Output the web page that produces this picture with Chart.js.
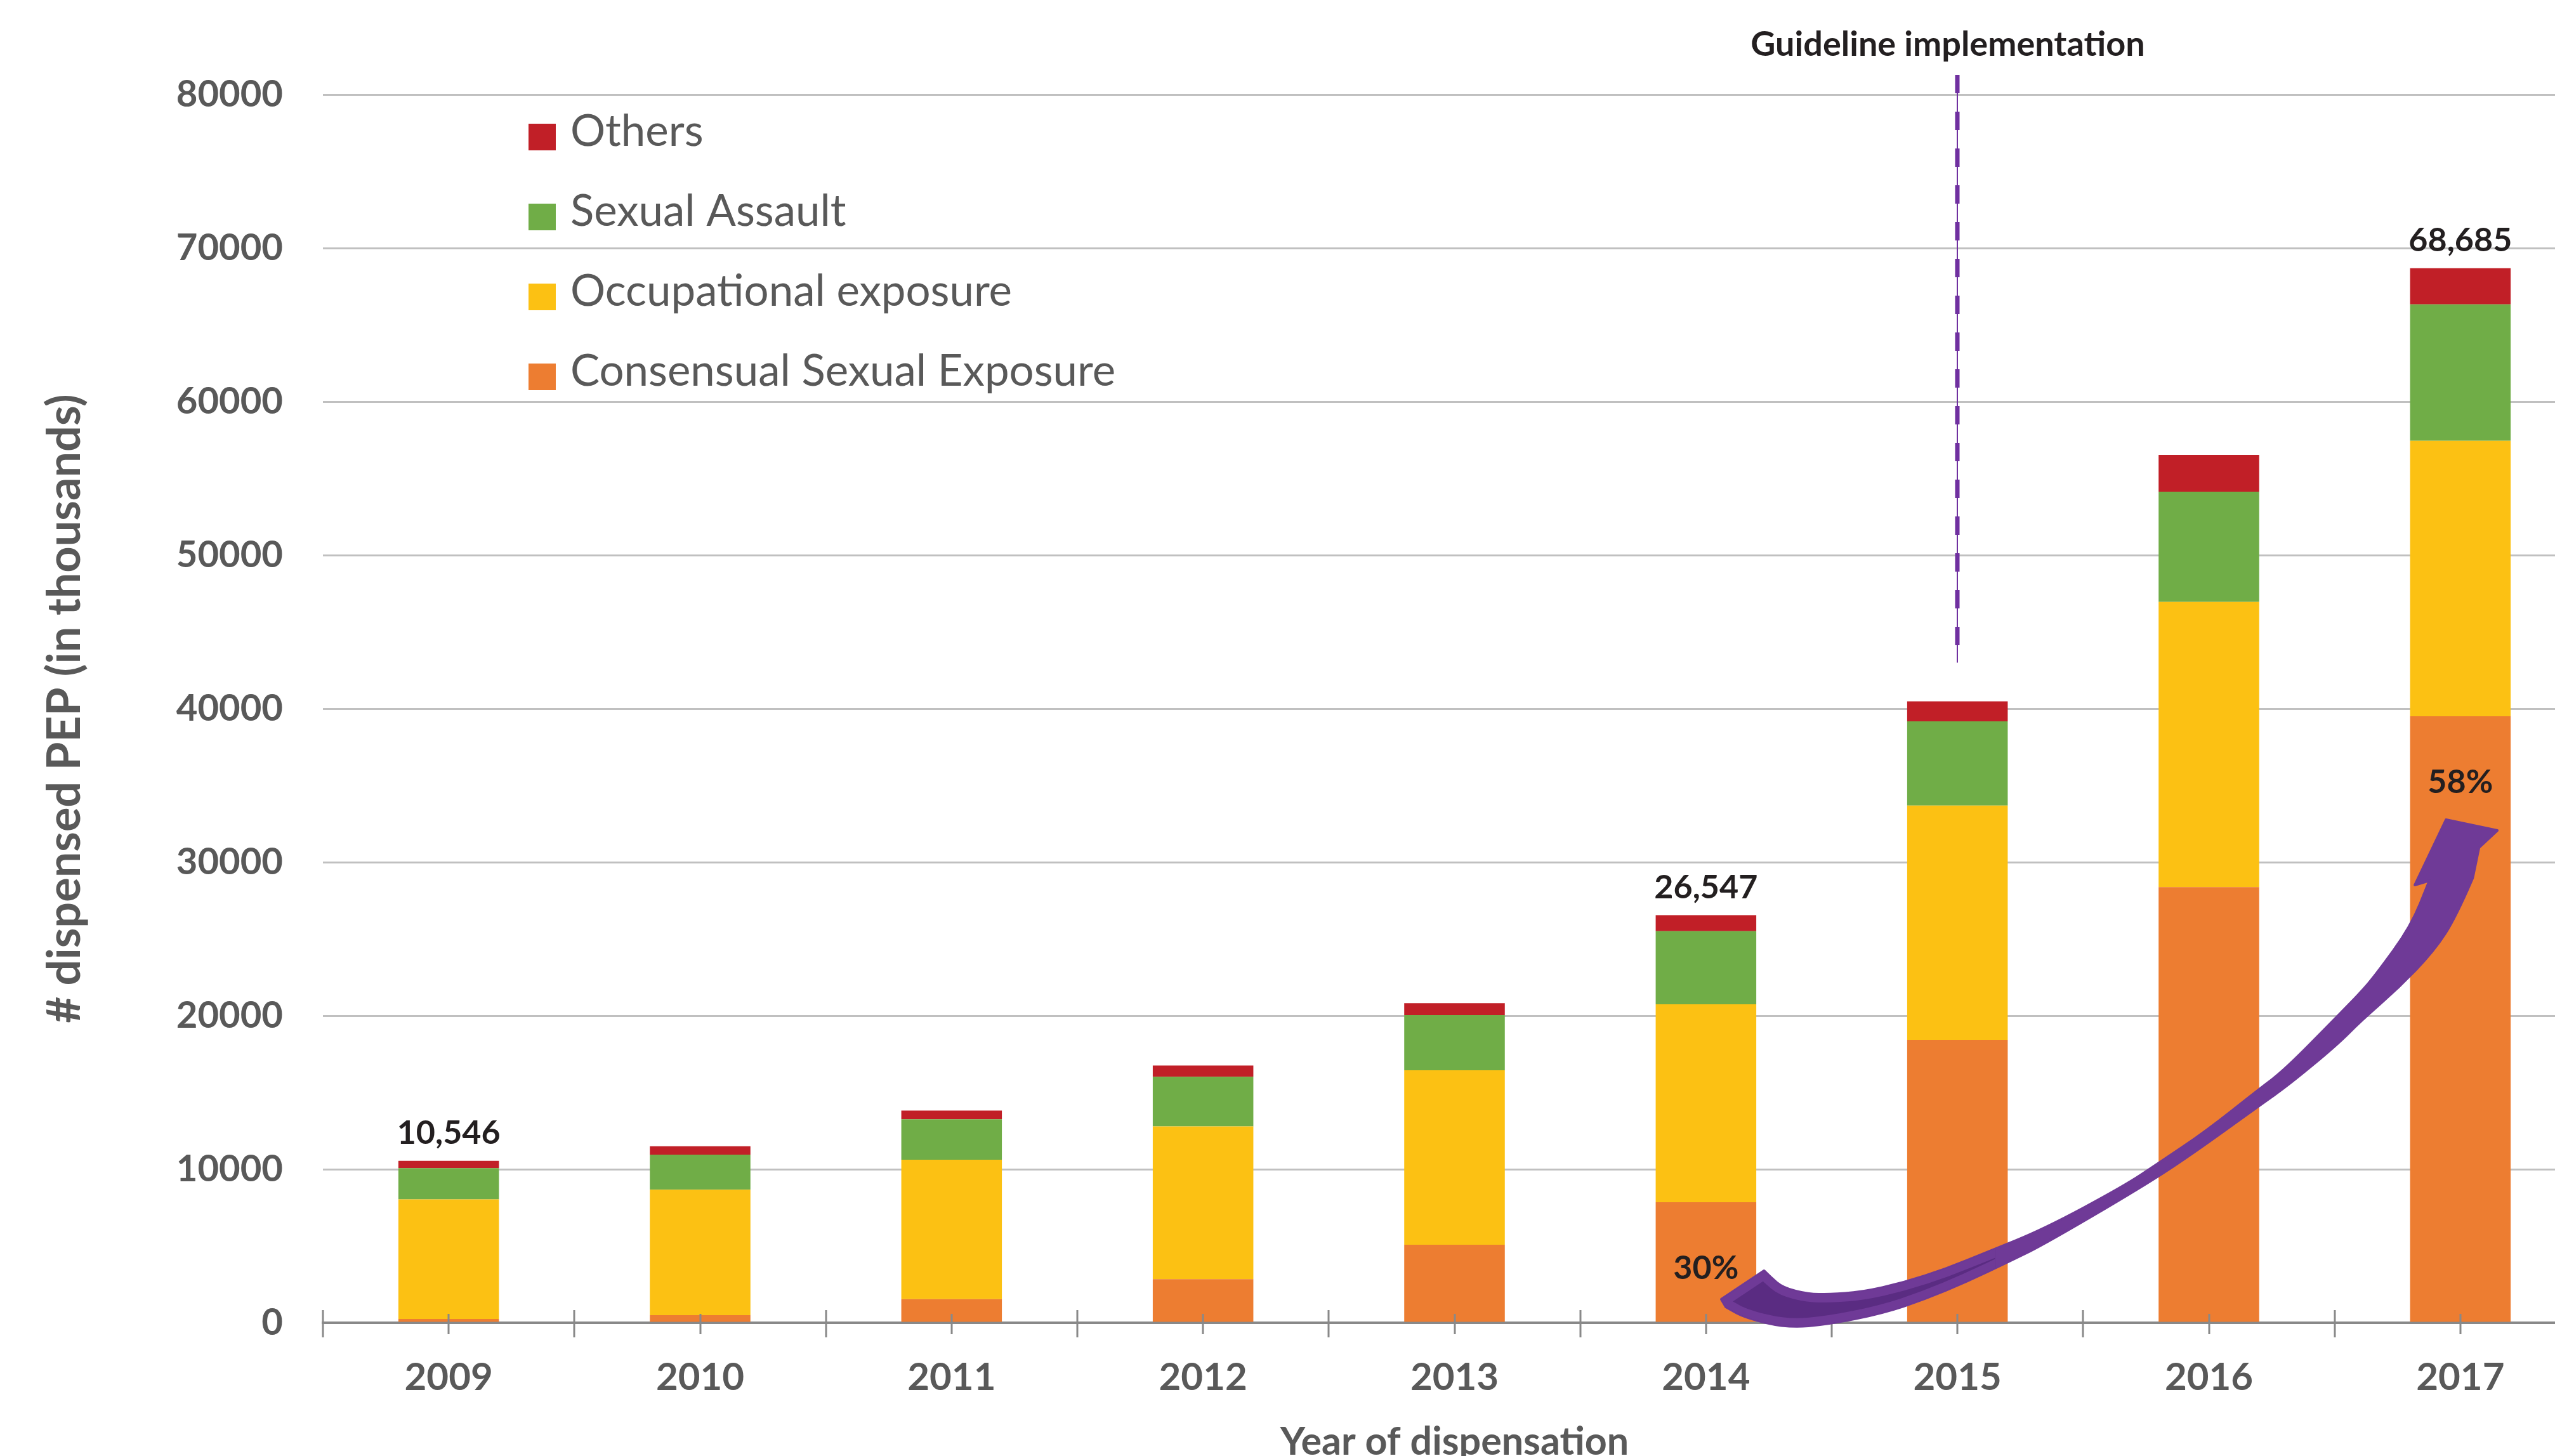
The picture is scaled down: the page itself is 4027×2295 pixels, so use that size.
<!DOCTYPE html>
<html>
<head>
<meta charset="utf-8">
<title>Dispensed PEP by year</title>
<script src="https://cdn.jsdelivr.net/npm/chart.js@4.4.1/dist/chart.umd.min.js"></script>
<style>
  html, body { margin: 0; padding: 0; background: #fff; overflow: hidden; }
  #wrap { width: 4076px; height: 2310px; }
</style>
</head>
<body>
<div id="wrap"><canvas id="pepChart" width="4076" height="2310"></canvas></div>
<script>
// ---- data ----
const years = ['2009', '2010', '2011', '2012', '2013', '2014', '2015', '2016', '2017'];
const consensual    = [244, 496, 1541, 2843, 5083, 7850, 18430, 28376, 39500];
const occupational  = [7796, 8169, 9075, 9950, 11359, 12894, 15257, 18579, 17950];
const sexualAssault = [2030, 2285, 2640, 3228, 3603, 4764, 5487, 7177, 8885];
const others        = [476, 546, 566, 735, 773, 1039, 1297, 2401, 2350];
const yTicks = [0, 10000, 20000, 30000, 40000, 50000, 60000, 70000, 80000];

const totalLabelYears = ['2009', '2014', '2017'];
const shareLabelYears = ['2014', '2017'];
const guidelineYear = '2015';

const totals = years.map((_, i) => consensual[i] + occupational[i] + sexualAssault[i] + others[i]);

// ---- colours ----
const COLORS = {
  consensual: '#ed7d31',
  occupational: '#fcc113',
  assault: '#70ad47',
  others: '#c11f27',
  text: '#595959',
  dark: '#231f20',
  grid: '#c0c0c0',
  axis: '#898989',
  purple: '#7030a0',
  arrow: '#6f3a97',
  arrowFill: '#5a2c82'
};

Chart.defaults.font.family = 'Lato, "Open Sans", sans-serif';
Chart.defaults.color = COLORS.text;

// swoosh arrow outline, in [category index, value] pairs
const arrowStart = [5.061, 1529];
const arrowUpper = [[5.231, 3388], [5.256, 2975], [5.306, 2273], [5.407, 1859], [5.490, 1859], [5.617, 1983],
  [5.786, 2603], [5.955, 3512], [6.121, 4628], [6.341, 6074], [6.661, 8884], [6.802, 10413], [6.989, 12479],
  [7.199, 15206], [7.300, 16446], [7.509, 19917], [7.602, 21487], [7.663, 22644], [7.804, 25826], [7.877, 28801]];
const arrowHead = [[7.819, 28512], [7.943, 32768], [8.147, 32066], [8.074, 30950]];
const arrowLower = [[8.049, 28967], [7.983, 26446], [7.895, 24215], [7.754, 21818], [7.602, 19628],
  [7.509, 18099], [7.317, 15496], [7.199, 14132], [6.929, 10950], [6.737, 8884], [6.341, 5083], [6.207, 4008],
  [6.038, 2686], [5.869, 1529], [5.702, 620], [5.490, -83], [5.324, -331], [5.155, 331], [5.079, 1033]];

function smoothThrough(ctx, pts) {
  ctx.lineTo(pts[0][0], pts[0][1]);
  for (let k = 1; k < pts.length - 1; k++) {
    const [ax, ay] = pts[k];
    const [bx, by] = pts[k + 1];
    ctx.quadraticCurveTo(ax, ay, (ax + bx) / 2, (ay + by) / 2);
  }
  const last = pts[pts.length - 1];
  ctx.lineTo(last[0], last[1]);
}

const annotations = {
  id: 'annotations',
  afterDraw(chart) {
    const { ctx, chartArea, scales: { x, y } } = chart;
    const toPx = p => [x.getPixelForValue(p[0]), y.getPixelForValue(p[1])];
    const line = (x1, y1, x2, y2) => { ctx.beginPath(); ctx.moveTo(x1, y1); ctx.lineTo(x2, y2); ctx.stroke(); };
    ctx.save();

    // tick marks on the category axis
    const step = x.getPixelForValue(1) - x.getPixelForValue(0);
    ctx.strokeStyle = COLORS.axis;
    ctx.lineWidth = 3;
    for (let i = 0; i <= years.length; i++) {
      const px = Math.round(x.getPixelForValue(i) - step / 2);
      line(px, chartArea.bottom - 20, px, chartArea.bottom + 23);
    }
    for (let i = 0; i < years.length; i++) {
      const px = Math.round(x.getPixelForValue(i));
      line(px, chartArea.bottom - 14, px, chartArea.bottom + 18);
    }

    // legend, top item = top of stack
    ctx.textAlign = 'left';
    ctx.textBaseline = 'alphabetic';
    ctx.font = '69px Lato';
    [...chart.data.datasets].reverse().forEach((ds, k) => {
      const cy = chartArea.top + 67 + k * 126;
      ctx.fillStyle = ds.backgroundColor;
      ctx.fillRect(chartArea.left + 324, cy - 21, 43, 42);
      ctx.fillStyle = COLORS.text;
      ctx.fillText(ds.label, chartArea.left + 390, cy + 14);
    });

    // guideline marker
    const gx = Math.round(x.getPixelForValue(years.indexOf(guidelineYear)));
    const gTop = chartArea.top - 31;
    const gBottom = y.getPixelForValue(43000);
    ctx.strokeStyle = COLORS.purple;
    ctx.lineWidth = 2;
    line(gx, gTop, gx, gBottom);
    ctx.lineWidth = 7;
    ctx.setLineDash([29, 29]);
    line(gx, gTop, gx, gBottom);
    ctx.setLineDash([]);
    ctx.fillStyle = COLORS.dark;
    ctx.font = 'bold 54px Lato';
    ctx.textAlign = 'center';
    ctx.fillText('Guideline implementation', gx - 15, chartArea.top - 61);

    // totals above selected bars
    ctx.font = 'bold 52px Lato';
    totalLabelYears.forEach(yr => {
      const i = years.indexOf(yr);
      ctx.fillText(totals[i].toLocaleString('en-US'), x.getPixelForValue(i), y.getPixelForValue(totals[i]) - 27);
    });

    // arrow from the 2014 share to the 2017 share
    const arrowPath = () => {
      ctx.beginPath();
      const s = toPx(arrowStart);
      ctx.moveTo(s[0], s[1]);
      smoothThrough(ctx, arrowUpper.map(toPx));
      arrowHead.map(toPx).forEach(p => ctx.lineTo(p[0], p[1]));
      smoothThrough(ctx, arrowLower.map(toPx));
      ctx.closePath();
    };
    ctx.lineJoin = 'round';
    arrowPath();
    ctx.fillStyle = COLORS.arrow;
    ctx.fill();
    ctx.strokeStyle = COLORS.arrow;
    ctx.lineWidth = 4;
    ctx.stroke();
    // darker body inside the tail, with a light rim
    ctx.save();
    arrowPath();
    ctx.clip();
    ctx.beginPath();
    ctx.rect(0, 0, x.getPixelForValue(6.15), chart.height);
    ctx.clip();
    arrowPath();
    ctx.fillStyle = COLORS.arrowFill;
    ctx.fill();
    ctx.lineWidth = 26;
    ctx.stroke();
    ctx.restore();

    // share of consensual exposure
    ctx.fillStyle = COLORS.dark;
    ctx.font = 'bold 52px Lato';
    ctx.textAlign = 'center';
    shareLabelYears.forEach(yr => {
      const i = years.indexOf(yr);
      const pct = Math.round(consensual[i] / totals[i] * 100) + '%';
      ctx.fillText(pct, x.getPixelForValue(i), y.getPixelForValue(consensual[i]) + 121);
    });

    ctx.restore();
  }
};

const barOpts = { barPercentage: 0.4, categoryPercentage: 1.0, borderWidth: 0, stack: 'pep' };

new Chart(document.getElementById('pepChart'), {
  type: 'bar',
  data: {
    labels: years,
    datasets: [
      { label: 'Consensual Sexual Exposure', data: consensual, backgroundColor: COLORS.consensual, ...barOpts },
      { label: 'Occupational exposure', data: occupational, backgroundColor: COLORS.occupational, ...barOpts },
      { label: 'Sexual Assault', data: sexualAssault, backgroundColor: COLORS.assault, ...barOpts },
      { label: 'Others', data: others, backgroundColor: COLORS.others, ...barOpts }
    ]
  },
  options: {
    responsive: false,
    animation: false,
    layout: { padding: { top: 149, left: 0, right: 0, bottom: 0 } },
    plugins: {
      legend: { display: false },
      tooltip: { enabled: false }
    },
    scales: {
      x: {
        stacked: true,
        z: 1,
        grid: { display: false, drawTicks: false },
        border: { display: true, color: COLORS.axis, width: 4 },
        ticks: { font: { size: 60, weight: 'bold' }, color: COLORS.text, padding: 51 },
        title: {
          display: true,
          text: 'Year of dispensation',
          font: { size: 61, weight: 'bold' },
          color: COLORS.text,
          padding: { top: 0, bottom: 0 }
        },
        afterFit: scale => { scale.height = 225; }
      },
      y: {
        stacked: true,
        min: 0,
        max: 80000,
        afterBuildTicks: scale => { scale.ticks = yTicks.map(v => ({ value: v })); },
        grid: { color: COLORS.grid, lineWidth: 3, drawTicks: false },
        border: { display: false },
        ticks: {
          font: { size: 58, weight: 'bold' },
          color: COLORS.text,
          padding: 63,
          callback: v => String(v)
        },
        title: {
          display: true,
          text: '# dispensed PEP (in thousands)',
          font: { size: 72, weight: 'bold' },
          color: COLORS.text,
          padding: { top: 60, bottom: 0 }
        },
        afterFit: scale => { scale.width = 509; }
      }
    }
  },
  plugins: [annotations]
});
</script>
</body>
</html>
